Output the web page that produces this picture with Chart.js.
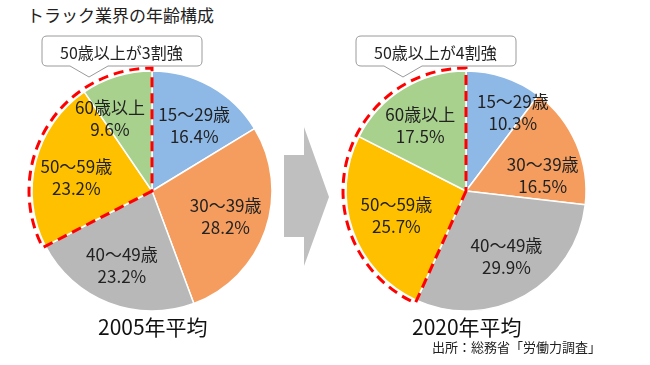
<!DOCTYPE html>
<html lang="ja">
<head>
<meta charset="utf-8">
<script src="https://cdn.jsdelivr.net/npm/chart.js@4/dist/chart.umd.min.js"></script>
<style>
  body { margin: 0; background: #fff; font-family: "Noto Sans CJK JP", sans-serif; color: #222; }
  #wrap { position: relative; width: 650px; height: 365px; overflow: hidden; }
  .pie { position: absolute; top: 61px; width: 260px; height: 260px; }
  .txt { position: absolute; white-space: nowrap; line-height: 1; }
  svg { position: absolute; left: 0; top: 0; }
</style>
</head>
<body>
<div id="wrap">
  <div class="txt" style="left:27px; top:6px; font-size:17px;">トラック業界の年齢構成</div>

  <div class="pie" style="left:22px;"><canvas id="chart1" width="260" height="260"></canvas></div>
  <div class="pie" style="left:336px;"><canvas id="chart2" width="260" height="260"></canvas></div>

  <svg width="650" height="365">
    <!-- callouts -->
    <path d="M47 36 H197 Q202 36 202 41 V61 Q202 66 197 66 H108 L89 77 L70 66 H47 Q42 66 42 61 V41 Q42 36 47 36 Z"
          fill="#fff" stroke="#9a9a9a" stroke-width="1"/>
    <path d="M361 36 H511 Q516 36 516 41 V61 Q516 66 511 66 H422 L403 77 L384 66 H361 Q356 66 356 61 V41 Q356 36 361 36 Z"
          fill="#fff" stroke="#9a9a9a" stroke-width="1"/>
    <!-- arrow -->
    <polygon points="284,155 304,155 304,127 329,197 304,266 304,237 284,237" fill="#bfbfbf"/>
  </svg>

  <div class="txt" style="left:60px; top:44px; font-size:16px;">50歳以上が3割強</div>
  <div class="txt" style="left:374px; top:44px; font-size:16px;">50歳以上が4割強</div>

  <div class="txt" style="left:98px; top:316px; font-size:21px; color:#111;">2005年平均</div>
  <div class="txt" style="left:412px; top:316px; font-size:21px; color:#111;">2020年平均</div>
  <div class="txt" style="left:432px; top:340px; font-size:13px;">出所：総務省「労働力調査」</div>
</div>

<script>
const ageGroups = ['15～29歳', '30～39歳', '40～49歳', '50～59歳', '60歳以上'];
const share2005 = [16.4, 28.2, 23.2, 23.2, 9.6];
const share2020 = [10.3, 16.5, 29.9, 25.7, 17.5];
const sliceColors = ['#8eb8e5', '#f49d5f', '#b8b8b8', '#ffc000', '#a9d18e'];
const highlightFrom = 3; // 50～59歳 and 60歳以上

// red dashed outline round the 50+ slices
const outline50 = {
    id: 'outline50',
    afterDatasetsDraw(chart) {
        const meta = chart.getDatasetMeta(0);
        const first = meta.data[highlightFrom];
        const last = meta.data[meta.data.length - 1];
        const R = first.outerRadius + 3;
        const ctx = chart.ctx;
        ctx.save();
        ctx.strokeStyle = '#ff0000';
        ctx.lineWidth = 3;
        ctx.setLineDash([10, 6]);
        ctx.beginPath();
        ctx.moveTo(first.x, first.y);
        ctx.lineTo(first.x + Math.cos(first.startAngle) * R, first.y + Math.sin(first.startAngle) * R);
        ctx.arc(first.x, first.y, R, first.startAngle, last.endAngle);
        ctx.closePath();
        ctx.stroke();
        ctx.restore();
    }
};

// labels inside slices (nudge = small shifts so text clears the slice edges)
const sliceLabels = {
    id: 'sliceLabels',
    afterDatasetsDraw(chart, args, opts) {
        const ctx = chart.ctx;
        const meta = chart.getDatasetMeta(0);
        const values = chart.data.datasets[0].data;
        const nudge = opts.nudge || [];
        ctx.save();
        ctx.fillStyle = '#222';
        ctx.font = '17px "Noto Sans CJK JP", sans-serif';
        ctx.textAlign = 'center';
        ctx.textBaseline = 'middle';
        meta.data.forEach((arc, i) => {
            const mid = (arc.startAngle + arc.endAngle) / 2;
            const r = arc.outerRadius * 0.65;
            const [dx, dy] = nudge[i] || [0, 0];
            const x = arc.x + Math.cos(mid) * r + dx;
            const y = arc.y + Math.sin(mid) * r + dy;
            ctx.fillText(chart.data.labels[i], x, y - 11);
            ctx.fillText(values[i].toFixed(1) + '%', x, y + 11);
        });
        ctx.restore();
    }
};

function makePie(id, values, nudge) {
    const ctx = document.getElementById(id).getContext('2d');
    return new Chart(ctx, {
        type: 'pie',
        data: {
            labels: ageGroups,
            datasets: [{
                data: values,
                backgroundColor: sliceColors,
                borderColor: '#ffffff',
                borderWidth: 1.5
            }]
        },
        options: {
            responsive: false,
            animation: false,
            radius: 120,
            layout: { padding: 0 },
            plugins: {
                legend: { display: false },
                tooltip: { enabled: false },
                sliceLabels: { nudge: nudge }
            }
        },
        plugins: [outline50, sliceLabels]
    });
}

makePie('chart1', share2005, [[4, 3], [0, 0], [-2, 2], [0, 6], [-19, 2]]);
makePie('chart2', share2020, [[22, -5], [5, 15], [2, -2], [4, -1], [-5, 1]]);
</script>
</body>
</html>
